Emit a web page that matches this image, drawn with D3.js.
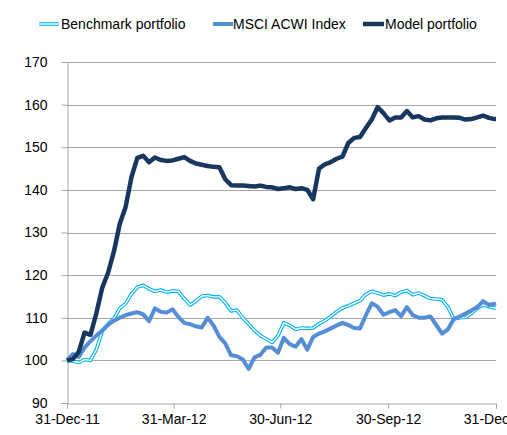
<!DOCTYPE html>
<html><head><meta charset="utf-8">
<script src="https://cdn.jsdelivr.net/npm/d3@7"></script>
<style>
body{margin:0;background:#fff;}
text{font-family:"Liberation Sans",Arial,sans-serif;fill:#000;}
</style></head>
<body><svg id="c" width="507" height="435"></svg>
<script>
const dates = ["2011-12-31","2012-01-05","2012-01-10","2012-01-15","2012-01-20","2012-01-25","2012-01-30",
"2012-02-04","2012-02-09","2012-02-14","2012-02-19","2012-02-24","2012-02-29",
"2012-03-05","2012-03-10","2012-03-15","2012-03-20","2012-03-25","2012-03-30",
"2012-04-04","2012-04-09","2012-04-14","2012-04-19","2012-04-24","2012-04-29",
"2012-05-04","2012-05-09","2012-05-14","2012-05-19","2012-05-24","2012-05-29",
"2012-06-03","2012-06-08","2012-06-13","2012-06-18","2012-06-23","2012-06-28",
"2012-07-03","2012-07-08","2012-07-13","2012-07-18","2012-07-23","2012-07-28",
"2012-08-02","2012-08-07","2012-08-12","2012-08-17","2012-08-22","2012-08-27",
"2012-09-01","2012-09-06","2012-09-11","2012-09-16","2012-09-21","2012-09-26",
"2012-10-01","2012-10-06","2012-10-11","2012-10-16","2012-10-21","2012-10-26","2012-10-31",
"2012-11-05","2012-11-10","2012-11-15","2012-11-20","2012-11-25","2012-11-30",
"2012-12-05","2012-12-10","2012-12-15","2012-12-20","2012-12-25","2012-12-30","2012-12-31"];

const benchmark = [100,99.8,99.5,100.2,100,102.5,106.8,
108.5,109.8,112.2,113.3,115.6,117.2,
117.6,116.8,116.2,116.5,116,116.3,
116.2,114.5,113,113.9,115.1,115.2,
114.9,114.9,113.5,111.6,111.8,110,
108.5,107,105.8,105,104.2,105.8,
108.8,108.2,107.3,107.6,107.5,107.6,
108.6,109.3,110.3,111.4,112.3,112.8,
113.4,114,115.5,116.2,115.8,115.3,
115.6,115.2,116,116.4,115.4,115.8,115.2,
114.5,114.4,114.2,112.5,109.7,110,
110.1,111,112.2,113,112.6,112.3,112.3];

const msci = [100,101.5,100.8,103,104.5,105.8,107,
108.3,109.3,110,110.6,111,111.3,
110.8,109.2,112.2,111.4,111.2,112,
110.2,108.8,108.5,108,107.7,110,
108.2,105.5,104,101.2,101,100.2,
98,100.7,101.3,103,103,101.8,
105.3,103.8,103.2,105,102.5,105.5,
106.3,106.8,107.5,108.2,108.8,108.3,
107.6,107.5,110.6,113.4,112.6,110.7,
111.3,111.8,110.4,112.5,110.6,110,110,
110.3,108.3,106.3,107.3,109.7,110.3,
111,111.7,112.5,113.9,113,113.3,113.4];

const model = [100,100.3,102,106.5,106,111,117,
120.5,125.5,132,136,143,147.5,
148,146.5,147.6,147,146.8,146.9,
147.3,147.7,146.8,146.2,145.9,145.6,
145.4,145.3,142.5,141.1,141,141,
140.9,140.8,141,140.7,140.6,140.2,
140.4,140.6,140.2,140.4,140,137.8,
145,146,146.5,147.3,147.8,151,
152.2,152.4,154.5,156.5,159.4,158,
156.3,157,157,158.5,157,157.3,156.5,
156.3,156.8,157,157,157,156.9,
156.5,156.6,157,157.4,156.9,156.6,156.6];

const yTicks = [90,100,110,120,130,140,150,160,170];
const xTickDates = ["2011-12-31","2012-03-31","2012-06-30","2012-09-30","2012-12-31"];
const seriesNames = ["Benchmark portfolio","MSCI ACWI Index","Model portfolio"];

const parse = d3.utcParse("%Y-%m-%d");
const fmt = d3.utcFormat("%d-%b-%y");
const svg = d3.select("#c");
const L = 67, R = 496, T = 62, B = 403;
const x = d3.scaleUtc().domain([parse(dates[0]), parse(dates[dates.length-1])]).range([L, R]);
const y = d3.scaleLinear().domain([90,170]).range([B, T]);
const gridCol = "#a6a6a6";

// gridlines
svg.append("g").selectAll("line").data(yTicks.slice(1)).join("line")
  .attr("x1", L).attr("x2", R).attr("y1", d=>Math.round(y(d))+0.5).attr("y2", d=>Math.round(y(d))+0.5)
  .attr("stroke", gridCol).attr("stroke-width",1);

// y axis
const yAxis = svg.append("g").attr("transform",`translate(${L+0.5},0)`)
  .call(d3.axisLeft(y).tickValues(yTicks).tickSize(6).tickPadding(14).tickFormat(d3.format("d")));
yAxis.select(".domain").attr("stroke", gridCol);
yAxis.selectAll(".tick line").attr("stroke", gridCol);
yAxis.selectAll(".tick text").attr("font-size","14px").attr("font-family","Liberation Sans, Arial, sans-serif").attr("fill","#000");

// x axis
const xAxis = svg.append("g").attr("transform",`translate(0,${Math.round(B)+0.5})`)
  .call(d3.axisBottom(x).tickValues(xTickDates.map(parse)).tickSize(5).tickPadding(6).tickFormat(fmt));
xAxis.select(".domain").attr("stroke", gridCol);
xAxis.selectAll(".tick line").attr("stroke", gridCol);
xAxis.selectAll(".tick text").attr("font-size","14px").attr("font-family","Liberation Sans, Arial, sans-serif").attr("fill","#000");

const line = d3.line().x((d,i)=>x(parse(dates[i]))).y(d=>y(d));

// benchmark double line
svg.append("path").datum(benchmark).attr("d", line).attr("fill","none")
  .attr("stroke","#00b0f0").attr("stroke-width",3.6).attr("stroke-linejoin","round");
svg.append("path").datum(benchmark).attr("d", line).attr("fill","none")
  .attr("stroke","#fff").attr("stroke-width",1.4).attr("stroke-linejoin","round");
svg.append("path").datum(msci).attr("d", line).attr("fill","none")
  .attr("stroke","#558ed5").attr("stroke-width",4).attr("stroke-linejoin","round");
svg.append("path").datum(model).attr("d", line).attr("fill","none")
  .attr("stroke","#17375e").attr("stroke-width",4.5).attr("stroke-linejoin","round");

// legend
const leg = svg.append("g");
const lx = [39, 213, 363];
// benchmark
leg.append("line").attr("x1",lx[0]).attr("x2",lx[0]+20).attr("y1",24).attr("y2",24).attr("stroke","#00b0f0").attr("stroke-width",3.6);
leg.append("line").attr("x1",lx[0]).attr("x2",lx[0]+20).attr("y1",24).attr("y2",24).attr("stroke","#fff").attr("stroke-width",1.4);
leg.append("line").attr("x1",lx[1]).attr("x2",lx[1]+20).attr("y1",24).attr("y2",24).attr("stroke","#558ed5").attr("stroke-width",4);
leg.append("line").attr("x1",lx[2]).attr("x2",lx[2]+21).attr("y1",24).attr("y2",24).attr("stroke","#17375e").attr("stroke-width",4.5);
[61,233,385].forEach((tx,i)=>{
  leg.append("text").attr("x",tx).attr("y",29).attr("font-size","14px").text(seriesNames[i]);
});
</script></body></html>
